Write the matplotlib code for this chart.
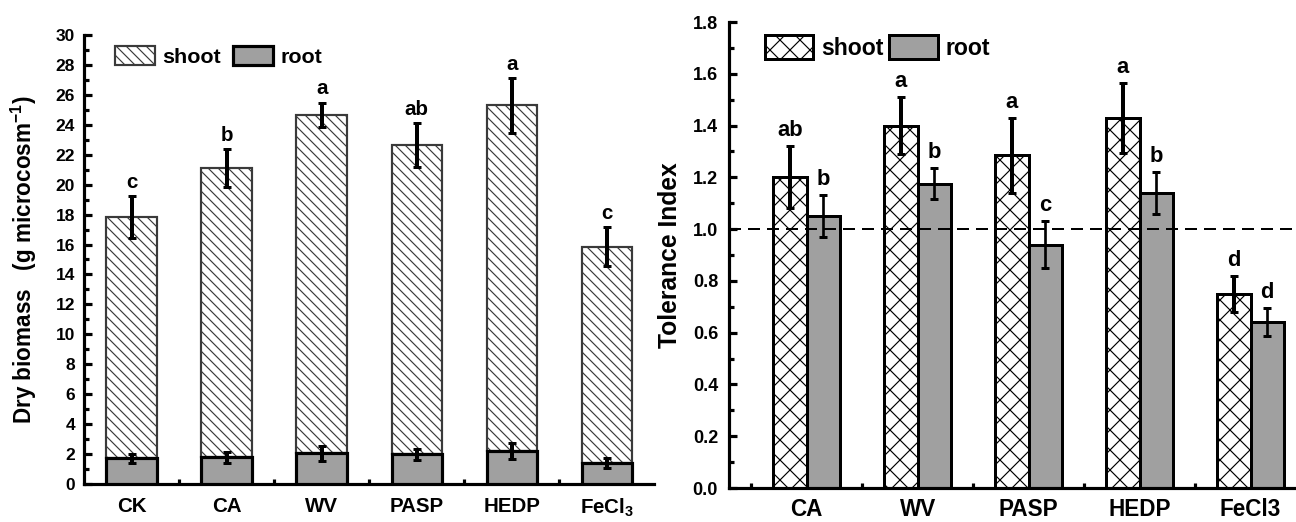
import numpy as np
import matplotlib
matplotlib.use("Agg")
import matplotlib.pyplot as plt
from matplotlib.patches import Patch
from matplotlib.ticker import MultipleLocator, FixedLocator

plt.rcParams['font.family'] = ['Liberation Sans', 'DejaVu Sans']
plt.rcParams['font.weight'] = 'bold'
plt.rcParams['mathtext.fontset'] = 'custom'
plt.rcParams['mathtext.rm'] = 'Liberation Sans:bold'
plt.rcParams['mathtext.bf'] = 'Liberation Sans:bold'
plt.rcParams['mathtext.default'] = 'bf'
plt.rcParams['hatch.linewidth'] = 0.7

# left panel: dry biomass (stacked: root at bottom, shoot on top)
bio_labels = ['CK', 'CA', 'WV', 'PASP', 'HEDP', 'FeCl$_3$']
root_bio = [1.72, 1.78, 2.06, 1.98, 2.22, 1.42]
root_bio_err = [0.30, 0.37, 0.50, 0.37, 0.53, 0.33]
total_bio = [17.85, 21.1, 24.65, 22.65, 25.3, 15.85]
total_bio_err = [1.40, 1.25, 0.83, 1.45, 1.83, 1.30]
bio_letters = ['c', 'b', 'a', 'ab', 'a', 'c']
shoot_bio = [t - r for t, r in zip(total_bio, root_bio)]

# right panel: tolerance index
ti_labels = ['CA', 'WV', 'PASP', 'HEDP', 'FeCl3']
ti_shoot = [1.20, 1.40, 1.285, 1.43, 0.75]
ti_shoot_err = [0.12, 0.11, 0.145, 0.135, 0.07]
ti_root = [1.05, 1.175, 0.94, 1.14, 0.64]
ti_root_err = [0.08, 0.06, 0.09, 0.08, 0.054]
ti_shoot_letters = ['ab', 'a', 'a', 'a', 'd']
ti_root_letters = ['b', 'b', 'c', 'b', 'd']

GRAY = '#a0a0a0'

fig = plt.figure(figsize=(10.8, 4.35), dpi=120)
ax1 = fig.add_axes([0.0648, 0.0728, 0.4402, 0.8602])
ax2 = fig.add_axes([0.5625, 0.0651, 0.4375, 0.8927])

# ---- left
x1 = np.arange(len(bio_labels))
w1 = 0.53
ax1.bar(x1, shoot_bio, w1, bottom=root_bio, color='white', edgecolor='#3a3a3a',
        linewidth=1.3, hatch='\\' * 4, zorder=2)
ax1.bar(x1, root_bio, w1, color=GRAY, edgecolor='black', linewidth=1.9, zorder=3)
ax1.errorbar(x1, total_bio, yerr=total_bio_err, fmt='none', ecolor='black',
             elinewidth=2.4, capsize=2.4, capthick=1.8, zorder=4)
ax1.errorbar(x1, root_bio, yerr=root_bio_err, fmt='none', ecolor='black',
             elinewidth=2.4, capsize=2.6, capthick=1.8, zorder=4)
for xi, t, e, lab in zip(x1, total_bio, total_bio_err, bio_letters):
    ax1.annotate(lab, (xi, t + e), xytext=(0, 5), textcoords='offset points',
                 ha='center', va='baseline', fontsize=12.3, fontweight='bold')

ax1.set_xlim(-0.5, 5.5)
ax1.set_ylim(0, 30)
ax1.yaxis.set_major_locator(MultipleLocator(2))
ax1.yaxis.set_minor_locator(MultipleLocator(1))
ax1.set_xticks(x1)
ax1.set_xticklabels(bio_labels)
ax1.xaxis.set_minor_locator(FixedLocator(x1[:-1] + 0.5))
ax1.set_ylabel('Dry biomass   (g microcosm$^{-1}$)', fontsize=13.5, fontweight='bold')
ax1.yaxis.set_label_coords(-0.078, 0.5)

ax1.legend(handles=[Patch(facecolor='white', edgecolor='#3a3a3a', linewidth=1.3,
                          hatch='\\' * 4, label='shoot'),
                    Patch(facecolor=GRAY, edgecolor='black', linewidth=1.9, label='root')],
           loc='upper left', bbox_to_anchor=(0.054, 0.976), ncol=2, frameon=False,
           fontsize=12.9, handlelength=1.86, handleheight=1.0, handletextpad=0.33,
           columnspacing=0.6, borderpad=0, borderaxespad=0)

# ---- right
x2 = np.arange(len(ti_labels))
w2 = 0.3
ax2.bar(x2 - w2 / 2, ti_shoot, w2, color='white', edgecolor='black', linewidth=1.8,
        hatch='xx', zorder=2)
ax2.bar(x2 + w2 / 2, ti_root, w2, color=GRAY, edgecolor='black', linewidth=1.8, zorder=2)
ax2.errorbar(x2 - w2 / 2, ti_shoot, yerr=ti_shoot_err, fmt='none', ecolor='black',
             elinewidth=2.4, capsize=2.2, capthick=1.8, zorder=4)
ax2.errorbar(x2 + w2 / 2, ti_root, yerr=ti_root_err, fmt='none', ecolor='black',
             elinewidth=1.6, capsize=2.4, capthick=1.8, zorder=4)
ax2.axhline(1.0, color='black', linewidth=1.2, linestyle=(0, (6, 3.5)), zorder=3)
for xi, v, e, lab in zip(x2 - w2 / 2, ti_shoot, ti_shoot_err, ti_shoot_letters):
    ax2.annotate(lab, (xi, v + e), xytext=(0, 6), textcoords='offset points',
                 ha='center', va='baseline', fontsize=13.2, fontweight='bold')
for xi, v, e, lab in zip(x2 + w2 / 2, ti_root, ti_root_err, ti_root_letters):
    ax2.annotate(lab, (xi, v + e), xytext=(0, 6), textcoords='offset points',
                 ha='center', va='baseline', fontsize=13.2, fontweight='bold')

ax2.set_xlim(-0.7, 4.41)
ax2.set_ylim(0, 1.8)
ax2.yaxis.set_major_locator(MultipleLocator(0.2))
ax2.yaxis.set_minor_locator(MultipleLocator(0.1))
ax2.set_xticks(x2)
ax2.set_xticklabels(ti_labels)
ax2.xaxis.set_minor_locator(FixedLocator(x2 - 0.5))
ax2.set_ylabel('Tolerance Index', fontsize=14.8, fontweight='bold')
ax2.yaxis.set_label_coords(-0.083, 0.5)

ax2.legend(handles=[Patch(facecolor='white', edgecolor='black', linewidth=1.8,
                          hatch='xx', label='shoot'),
                    Patch(facecolor=GRAY, edgecolor='black', linewidth=1.8, label='root')],
           loc='upper left', bbox_to_anchor=(0.063, 0.972), ncol=2, frameon=False,
           fontsize=13.8, handlelength=2.1, handleheight=1.2, handletextpad=0.35,
           columnspacing=0.26, borderpad=0, borderaxespad=0)

for ax, xpad, ypad, fs_y, fs_x in [(ax1, 7.8, 5.4, 10.4, 12.3), (ax2, 6.0, 6.6, 10.8, 13.5)]:
    for s in ['top', 'right']:
        ax.spines[s].set_visible(False)
    for s in ['left', 'bottom']:
        ax.spines[s].set_linewidth(1.9)
    ax.tick_params(which='major', direction='in', length=4.8, width=1.9)
    ax.tick_params(which='minor', direction='in', length=3, width=1.9)
    ax.tick_params(axis='y', which='major', pad=ypad, labelsize=fs_y)
    ax.tick_params(axis='x', which='major', pad=xpad, labelsize=fs_x)
    for lab in ax.get_xticklabels() + ax.get_yticklabels():
        lab.set_fontweight('bold')

fig.savefig('out.png', dpi=120)
